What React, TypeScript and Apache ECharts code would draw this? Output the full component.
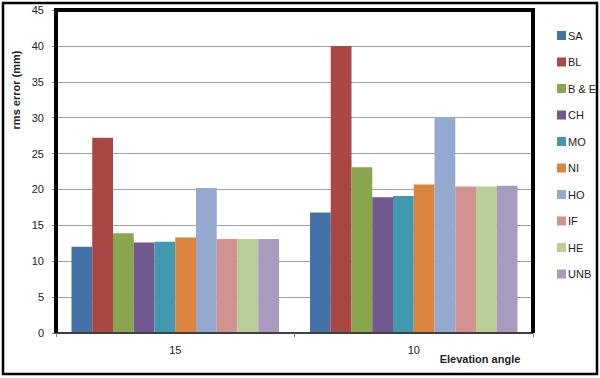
import React, { useEffect, useRef } from "react";
import * as echarts from "echarts";

const categories = ["15", "10"];
const seriesNames = ["SA", "BL", "B & E", "CH", "MO", "NI", "HO", "IF", "HE", "UNB"];
const seriesColors = ["#4572A7", "#AA4643", "#89A54E", "#71588F", "#4198AF", "#DB843D", "#93A9CF", "#D19392", "#B9CD96", "#A99BBD"];
const valuesSA = [12.0, 16.8];
const valuesBL = [27.2, 40.0];
const valuesBE = [13.9, 23.1];
const valuesCH = [12.6, 18.9];
const valuesMO = [12.7, 19.1];
const valuesNI = [13.3, 20.7];
const valuesHO = [20.2, 30.1];
const valuesIF = [13.1, 20.4];
const valuesHE = [13.1, 20.4];
const valuesUNB = [13.1, 20.5];
const seriesValues = [valuesSA, valuesBL, valuesBE, valuesCH, valuesMO, valuesNI, valuesHO, valuesIF, valuesHE, valuesUNB];

const FONT = "Liberation Sans";

export default function App() {
  const ref = useRef<HTMLDivElement>(null);
  useEffect(() => {
    if (!ref.current) return;
    const chart = echarts.init(ref.current, null, { renderer: "svg" });
    chart.setOption({
      animation: false,
      backgroundColor: "#ffffff",
      textStyle: { fontFamily: FONT },
      grid: {
        left: 56,
        top: 10,
        right: 67,
        bottom: 45,
        show: false,
      },
      legend: {
        orient: "vertical",
        left: 552,
        top: 24,
        itemWidth: 9,
        itemHeight: 9,
        itemGap: 13.5,
        icon: "rect",
        textStyle: { fontSize: 11, color: "#222", fontFamily: FONT, lineHeight: 13, padding: [0, 0, 0, -3] },
        data: seriesNames,
      },
      xAxis: {
        type: "category",
        data: categories,
        axisLine: { show: true, lineStyle: { color: "#404040", width: 2 } },
        axisTick: { show: true, length: 4, lineStyle: { color: "#808080" } },
        axisLabel: { fontSize: 11, color: "#222", margin: 11, fontFamily: FONT },
        z: 10,
      },
      yAxis: {
        type: "value",
        min: 0,
        max: 45,
        interval: 5,
        axisLine: { show: false },
        axisTick: { show: true, length: 4, lineStyle: { color: "#808080" } },
        axisLabel: { fontSize: 11, color: "#222", margin: 12, fontFamily: FONT },
        splitLine: { show: true, lineStyle: { color: "#a0a0a0", width: 1 } },
      },
      graphic: [
        {
          type: "rect",
          shape: { x: 3, y: 3, width: 594, height: 371 },
          style: { fill: "transparent", stroke: "#000", lineWidth: 2.5 },
          z: 100,
        },
        {
          type: "polyline",
          shape: { points: [[56, 333], [56, 10], [533, 10], [533, 333]] },
          style: { fill: "none", stroke: "#000", lineWidth: 4 },
          z: 100,
        },
        {
          type: "text",
          x: 16,
          y: 90,
          rotation: Math.PI / 2,
          style: {
            text: "rms error (mm)",
            font: `bold 11px "${FONT}"`,
            fill: "#222",
            textAlign: "center",
            textVerticalAlign: "middle",
          },
        },
        {
          type: "text",
          x: 480,
          y: 359,
          style: {
            text: "Elevation angle",
            font: `bold 11px "${FONT}"`,
            fill: "#222",
            textAlign: "center",
            textVerticalAlign: "middle",
          },
        },
      ],
      series: seriesNames.map((name, i) => ({
        name,
        type: "bar",
        data: seriesValues[i],
        barGap: "0%",
        barCategoryGap: "13%",
        itemStyle: { color: seriesColors[i] },
      })),
    });
    return () => chart.dispose();
  }, []);
  return <div ref={ref} style={{ position: "fixed", left: 0, top: 0, width: 600, height: 378 }} />;
}
